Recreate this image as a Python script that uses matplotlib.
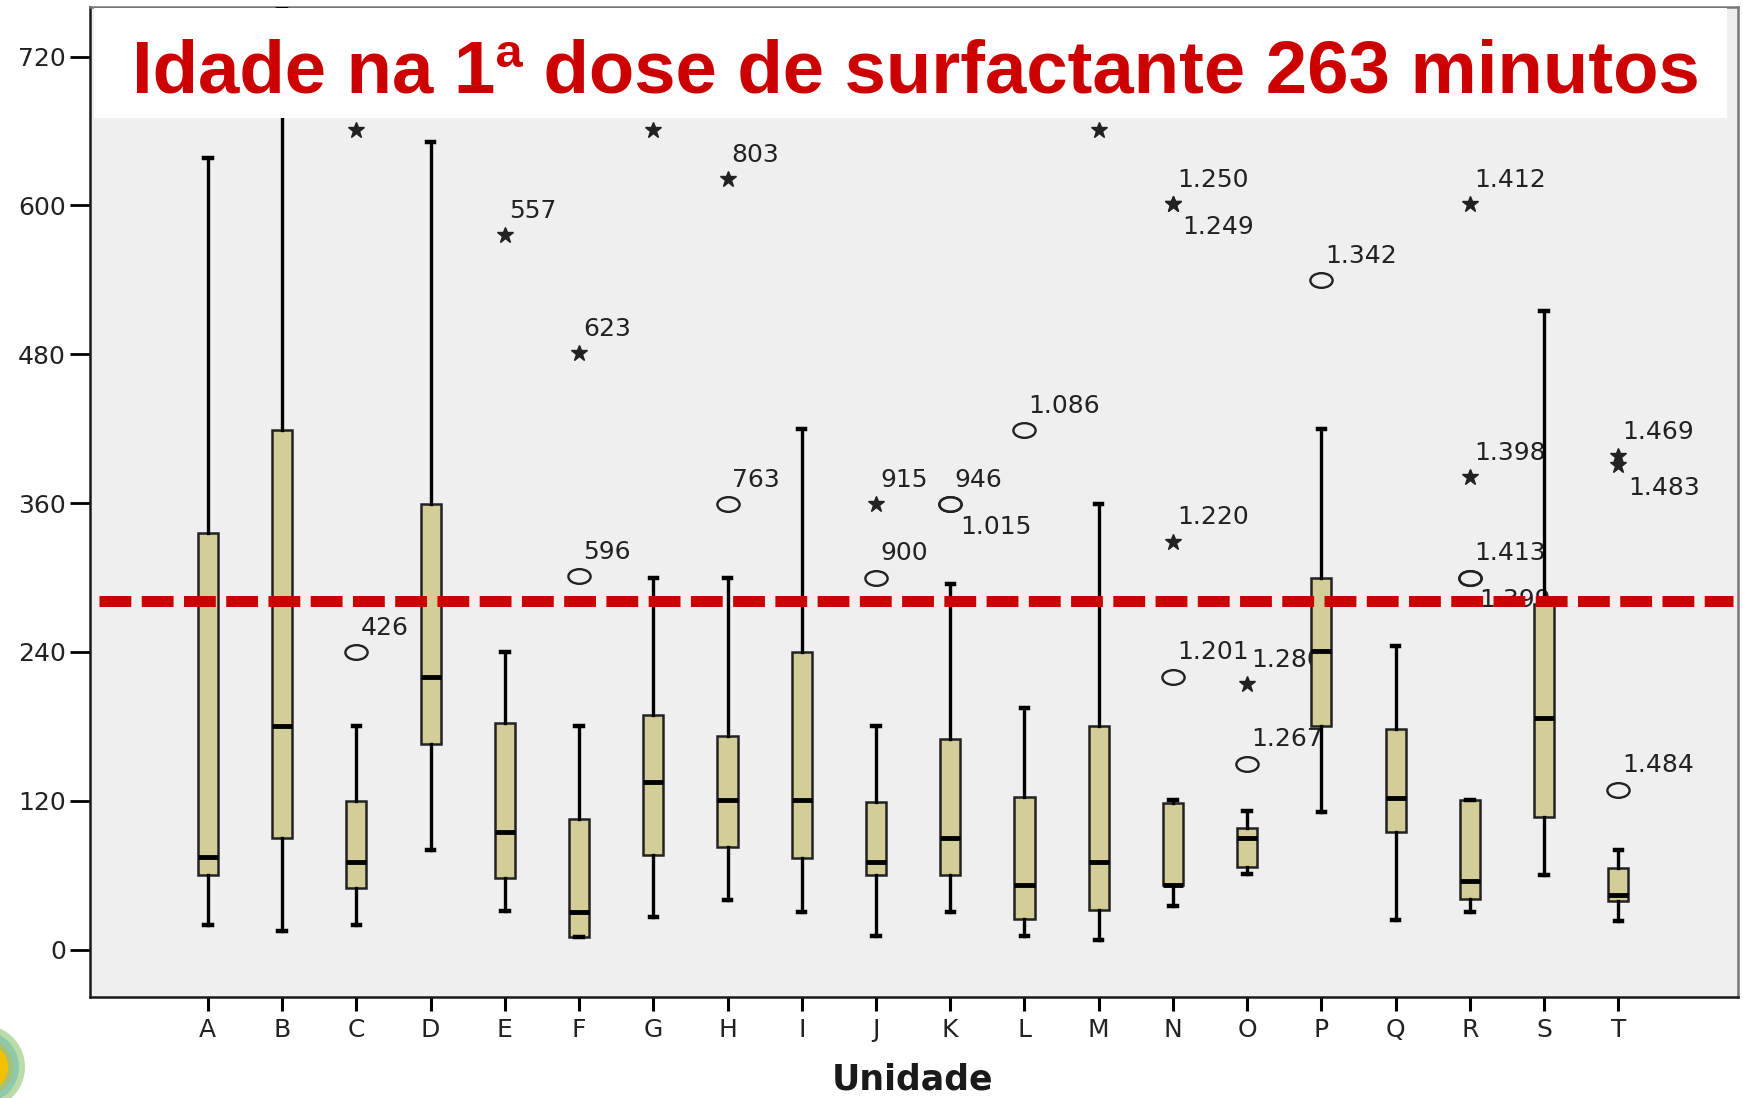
import matplotlib
matplotlib.use('Agg')
import matplotlib.pyplot as plt
from matplotlib.patches import Rectangle, Circle
from matplotlib.path import Path
from matplotlib.transforms import Affine2D

# box summaries per unit (minutes)
units = list('ABCDEFGHIJKLMNOPQRST')
q1 = [60, 90, 50, 166, 58, 10, 76, 83, 74, 60, 60, 25, 32, 52, 67, 180, 95, 41, 107, 39]
med = [75, 180, 71, 220, 95, 30, 135, 121, 121, 71, 90, 52, 71, 52, 90, 241, 122, 55, 187, 44]
q3 = [336, 419, 120, 359, 183, 105, 189, 172, 240, 119, 170, 123, 180, 118, 98, 300, 178, 121, 279, 66]
whislo = [20, 15, 20, 80, 31, 10, 26, 40, 30, 11, 30, 11, 8, 35, 61, 111, 24, 30, 60, 23]
whishi = [638, 760, 180, 651, 240, 180, 300, 300, 420, 180, 295, 195, 359, 121, 112, 420, 245, 121, 515, 80]

# outliers (circles) and extremes (stars) with case labels
circ_unit = ['C', 'F', 'H', 'J', 'K', 'K', 'L', 'N', 'O', 'P', 'R', 'R', 'T']
circ_val = [240, 301, 359, 300, 359, 359, 419, 220, 150, 540, 300, 300, 129]
circ_lab = ['426', '596', '763', '900', '946', '1.015', '1.086', '1.201', '1.267', '1.342', '1.413', '1.399', '1.484']
circ_side = ['up', 'up', 'up', 'up', 'up', 'down', 'up', 'up', 'up', 'up', 'up', 'down', 'up']

star_unit = ['C', 'E', 'F', 'G', 'H', 'J', 'M', 'N', 'N', 'N', 'O', 'R', 'R', 'T', 'T']
star_val = [661, 576, 481, 661, 621, 359, 661, 329, 601, 601, 214, 601, 381, 398, 391]
star_lab = ['', '557', '623', '', '803', '915', '', '1.220', '1.250', '1.249', '1.280', '1.412', '1.398', '1.469', '1.483']
star_side = ['up', 'up', 'up', 'up', 'up', 'up', 'up', 'up', 'up', 'down', 'up', 'up', 'up', 'up', 'down']

cutoff = 281
title = 'Idade na 1ª dose de surfactante 263 minutos'

fig = plt.figure(figsize=(17.43, 10.98), dpi=100)
ax = fig.add_axes([0.0516, 0.092, 0.9455, 0.9016])
ax.set_facecolor('#efefef')

stats = []
for i in range(len(units)):
    stats.append(dict(med=med[i], q1=q1[i], q3=q3[i], whislo=whislo[i], whishi=whishi[i], fliers=[]))
pos = list(range(1, len(units) + 1))
ax.bxp(stats, positions=pos, widths=0.27, capwidths=0.1, patch_artist=True,
       boxprops=dict(facecolor='#d3ce97', edgecolor='#222222', linewidth=1.8),
       medianprops=dict(color='black', linewidth=3.5),
       whiskerprops=dict(color='black', linewidth=2.4),
       capprops=dict(color='black', linewidth=3.2),
       zorder=3)

xi = {u: i + 1 for i, u in enumerate(units)}
ell = Path.unit_circle().transformed(Affine2D().scale(1.0, 0.66))
ax.plot([xi[u] for u in circ_unit], circ_val, ls='none', marker=ell, ms=16,
        mfc='none', mec='#222222', mew=1.7, zorder=3)
ax.plot([xi[u] for u in star_unit], star_val, ls='none', marker='*', ms=12,
        color='#222222', zorder=3)

for units_, vals, labs, sides in [(circ_unit, circ_val, circ_lab, circ_side),
                                  (star_unit, star_val, star_lab, star_side)]:
    for u, v, t, s in zip(units_, vals, labs, sides):
        if not t:
            continue
        off = (3, 17.5) if s == 'up' else (7, -16.5)
        ax.annotate(t, (xi[u], v), xytext=off, textcoords='offset points',
                    ha='left', va='center', fontsize=18, color='#222222',
                    family='DejaVu Sans', zorder=2)

ax.axhline(cutoff, xmin=0.0055, xmax=0.997, color='#cc0000', lw=7.9,
           dashes=(2.9, 0.95), zorder=4)

ax.set_xlim(-0.588, 21.61)
ax.set_ylim(-38.2, 760)
ax.set_yticks([0, 120, 240, 360, 480, 600, 720])
ax.set_xticks(pos)
ax.set_xticklabels(units)
ax.tick_params(axis='y', length=14.4, width=2.0, pad=3, labelsize=18, labelcolor='#222222')
ax.tick_params(axis='x', length=10, width=2.2, pad=5, labelsize=18, labelcolor='#222222')
for side in ['left', 'bottom']:
    ax.spines[side].set_linewidth(1.8)
    ax.spines[side].set_color('#1a1a1a')
for side in ['top', 'right']:
    ax.spines[side].set_linewidth(1.8)
    ax.spines[side].set_color('#777777')

# white title banner over the top of the plot area
ax.add_patch(Rectangle((0.0023, 0.888), 0.991, 0.111, transform=ax.transAxes,
                       facecolor='white', edgecolor='none', zorder=5))
fig.text(0.0757, 0.9156, title, family='Liberation Sans', weight='bold',
         fontsize=53.6, color='#cc0000', ha='left', va='baseline', zorder=6)

fig.text(0.5235, 0.008, 'Unidade', family='DejaVu Sans', weight='bold',
         fontsize=25, color='#1a1a1a', ha='center', va='baseline')

# partial logo in the lower left corner
for r, c in [(0.42, '#b9dca8'), (0.36, '#8ec9ad'), (0.30, '#a9bf72'), (0.25, '#f2c200')]:
    fig.add_artist(Circle((-0.17, 0.31), r, transform=fig.dpi_scale_trans,
                          facecolor=c, edgecolor='none'))

fig.savefig('out.png', dpi=100)
